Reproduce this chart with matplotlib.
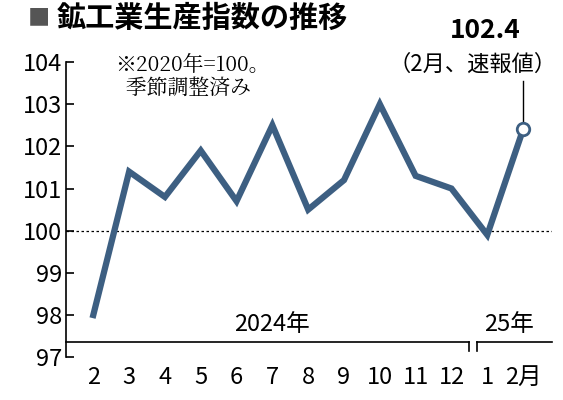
import matplotlib
matplotlib.use("Agg")
import matplotlib.pyplot as plt

plt.rcParams['font.family'] = ['Noto Sans CJK JP', 'DejaVu Sans']

months = ["2", "3", "4", "5", "6", "7", "8", "9", "10", "11", "12", "1", "2月"]
values = [98.0, 101.4, 100.8, 101.9, 100.7, 102.5, 100.5, 101.2, 103.0, 101.3, 101.0, 99.9, 102.4]
yticks = [97, 98, 99, 100, 101, 102, 103, 104]

fig = plt.figure(figsize=(5.63, 4.0), dpi=100)
ax = fig.add_axes([0.118, 0.107, 0.862, 0.738])
x = list(range(len(values)))
color = "#3d5f82"
ax.plot(x, values, color=color, lw=4.5, solid_joinstyle='miter', zorder=3)
ax.plot(x[-1], values[-1], 'o', ms=9, mfc='white', mec=color, mew=2, zorder=4)
ax.axhline(100, color='black', lw=0.9, ls=(0, (2, 2)), zorder=1)

ax.set_ylim(97, 104)
ax.set_xlim(-0.75, 12.8)
ax.set_yticks(yticks)
ax.set_yticklabels([str(v) for v in yticks], fontsize=17)
ax.tick_params(axis='y', direction='in', length=6, width=1.2, pad=3)
ax.set_xticks(x)
ax.set_xticklabels(months, fontsize=17)
ax.tick_params(axis='x', length=0, pad=6)
for s in ['top', 'right', 'bottom']:
    ax.spines[s].set_visible(False)
ax.spines['left'].set_linewidth(1.2)

# year brackets
yb = 97.35
ax.plot([-0.75, 10.5], [yb, yb], color='black', lw=1.2, clip_on=False)
ax.plot([10.5, 10.5], [yb, yb - 0.2], color='black', lw=1.2, clip_on=False)
ax.plot([10.7, 12.8], [yb, yb], color='black', lw=1.2, clip_on=False)
ax.plot([10.7, 10.7], [yb, yb - 0.2], color='black', lw=1.2, clip_on=False)
ax.text(5, 97.5, "2024年", ha='center', va='bottom', fontsize=17)
ax.text(11.6, 97.5, "25年", ha='center', va='bottom', fontsize=17)

ax.text(0.6, 103.65, "※2020年=100。\n  季節調整済み", ha='left', va='center',
        fontsize=15, family=['Noto Serif CJK JP', 'Noto Sans CJK JP', 'DejaVu Sans'], linespacing=1.1)

ax.text(10.95, 104.75, "102.4", ha='center', va='center', fontsize=19, fontweight='bold')
ax.text(10.6, 103.95, "（2月、速報値）", ha='center', va='center', fontsize=16)
ax.plot([12, 12], [103.55, 102.6], color='black', lw=1, clip_on=False)

fig.text(0.05, 0.955, "■", fontsize=16, color='#555555', va='center', ha='left')
fig.text(0.1, 0.955, "鉱工業生産指数の推移", fontsize=21, fontweight='bold', va='center', ha='left')

fig.savefig("out.png", dpi=100, facecolor='white')
